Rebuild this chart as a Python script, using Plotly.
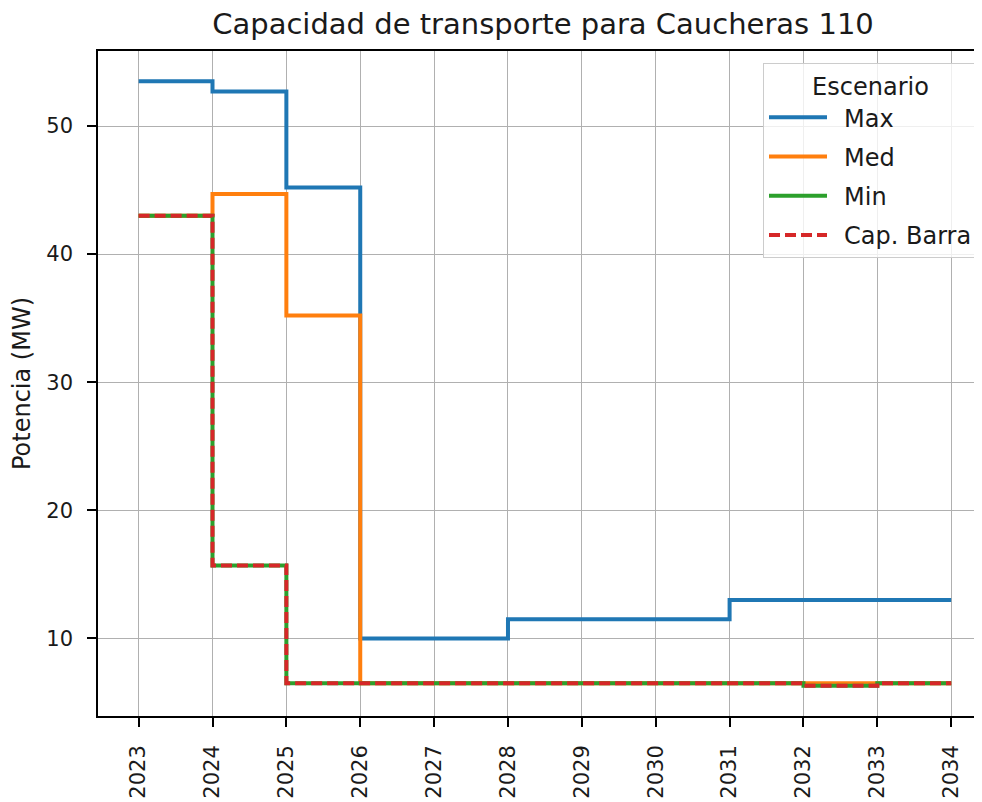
import plotly.graph_objects as go

years = [2023, 2024, 2025, 2026, 2027, 2028, 2029, 2030, 2031, 2032, 2033, 2034]
max_vals = [53.5, 52.7, 45.2, 10.0, 10.0, 11.5, 11.5, 11.5, 13.0, 13.0, 13.0, 13.0]
med_vals = [43.0, 44.7, 35.2, 6.5, 6.5, 6.5, 6.5, 6.5, 6.5, 6.5, 6.5, 6.5]
min_vals = [43.0, 15.7, 6.5, 6.5, 6.5, 6.5, 6.5, 6.5, 6.5, 6.3, 6.5, 6.5]
cap_barra = [43.0, 15.7, 6.5, 6.5, 6.5, 6.5, 6.5, 6.5, 6.5, 6.3, 6.5, 6.5]
y_ticks = [10, 20, 30, 40, 50]

series = [
    ("Max", max_vals, "#1f77b4", "solid"),
    ("Med", med_vals, "#ff7f0e", "solid"),
    ("Min", min_vals, "#2ca02c", "solid"),
    ("Cap. Barra", cap_barra, "#d62728", "11px,5px"),
]

fig = go.Figure()
for name, vals, color, dash in series:
    fig.add_trace(go.Scatter(
        x=years, y=vals, name="\u2002" + name, mode="lines",
        line=dict(color=color, width=4, dash=dash, shape="hv"),
        legendgroup=name,
    ))

W, H = 974, 794
L, R, T, B = 90, 0, 43, 86
plot_w = W - L - R
plot_h = H - T - B

font_family = "DejaVu Sans"
fig.update_layout(
    width=W, height=H,
    margin=dict(l=L, r=R, t=T, b=B),
    paper_bgcolor="white", plot_bgcolor="white",
    font=dict(family=font_family, size=21, color="#1a1a1a"),
    title=dict(text="Capacidad de transporte para Caucheras 110",
               x=535 / W, xanchor="center", y=1 - 16 / H, yanchor="middle",
               font=dict(size=29, color="#1a1a1a")),
    showlegend=True,
    legend=dict(
        title=dict(text="Escenario", side="top center", font=dict(size=24)),
        x=(970 - L) / plot_w, xanchor="right", y=1 - 12 / plot_h, yanchor="top",
        bgcolor="rgba(255,255,255,0.8)", bordercolor="#cccccc", borderwidth=1,
        font=dict(size=24), tracegroupgap=5, itemwidth=58,
    ),
    xaxis=dict(
        range=[2022.45, 2022.45 + plot_w / 73.87],
        tickmode="array", tickvals=years, ticktext=[str(y) for y in years],
        tickangle=-90, ticks="outside", ticklen=9, tickwidth=1.6, tickcolor="black",
        ticklabelstandoff=10,
        showgrid=True, gridcolor="#b0b0b0", gridwidth=1.3,
        showline=True, linecolor="black", linewidth=1.6, mirror=True,
        zeroline=False, tickfont=dict(size=21),
    ),
    yaxis=dict(
        range=[3.94, 55.86],
        tickmode="array", tickvals=y_ticks,
        ticks="outside", ticklen=9, tickwidth=1.6, tickcolor="black",
        ticklabelstandoff=10,
        showgrid=True, gridcolor="#b0b0b0", gridwidth=1.3,
        showline=True, linecolor="black", linewidth=1.6, mirror=False,
        zeroline=False, tickfont=dict(size=21),
        title=dict(text="Potencia (MW)", font=dict(size=24), standoff=15),
    ),
)

fig.write_html("out.html")
